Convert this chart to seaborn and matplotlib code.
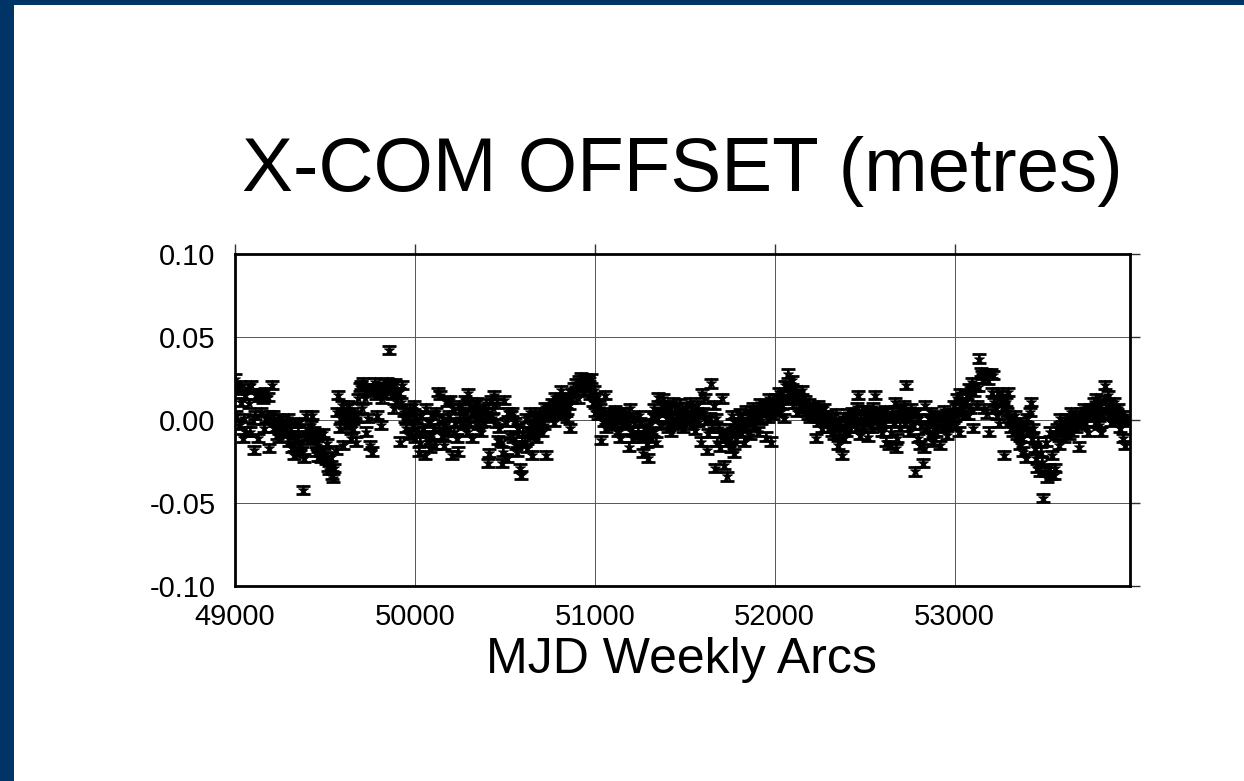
import numpy as np
import pandas as pd
import matplotlib
matplotlib.use("Agg")
import matplotlib.pyplot as plt
from matplotlib.patches import Rectangle
import seaborn as sns

# ---- data (X-COM offset, millimetres, one value per weekly arc) ----
start_mjd = 49000
step_days = 7
x_offset_mm = [
    25, 3, 18, -3, 21, 11, -11, 1, 15, -7,
    19, 10, -7, 21, 0, -18, 3, 15, -11, 14,
    16, 5, 13, -5, 17, 1, 14, -17, 3, 21,
    3, -5, -1, -9, 1, -11, -3, -7, 0, -6,
    -3, -7, 1, -13, -5, -17, -9, -21, -2, -11,
    -7, -1, -15, -19, -42, -23, 3, -9, -5, -12,
    -3, 3, -11, -7, -19, -15, -22, -9, -23, -18,
    -8, -20, -24, -14, -28, -30, -22, -33, -35, -29,
    -18, 5, 15, -5, 1, 9, -15, 3, -3, 7,
    9, -1, -11, 5, -5, 3, -13, 1, 13, 20,
    21, 7, 23, 13, -7, 17, 1, -15, 19, -19,
    19, 23, 15, 3, 20, 17, -3, 13, 22, 16,
    20, 23, 42, 21, 19, 15, 7, 22, 17, 11,
    17, -13, 11, 21, 5, 1, -5, 3, -9, 7,
    5, -3, 9, -11, 1, -7, -19, -13, 3, -5,
    -7, -21, 7, -13, -1, -17, -9, 3, -5, -15,
    5, 17, -5, 15, -9, 1, -15, -3, 11, -7,
    3, 12, -21, 7, -7, -1, -11, -19, 9, 1,
    7, -3, 3, 12, -7, 16, -1, 9, -11, 5,
    9, 1, 11, -3, 5, -7, 3, 7, -1, 10,
    5, -26, -20, 12, 1, 7, 15, -2, 10, -12,
    -5, -13, -26, -19, 12, -1, -23, 5, -9, 3,
    5, -11, -1, -15, -19, -5, -29, -33, -13, -7,
    -13, 1, -17, -7, 5, -3, -21, -9, 3, -11,
    1, -5, 5, -1, -7, -3, 8, -21, 3, 7,
    7, 3, 10, -1, 14, 5, 9, 12, 3, 18,
    11, 7, 14, 5, 1, 9, -5, 13, 16, 20,
    17, 22, 13, 24, 20, 26, 22, 17, 25, 20,
    24, 21, 15, 25, 11, 18, 5, 14, 3, 9,
    7, -12, 3, -1, 15, -5, 1, 5, -3, 2,
    3, -3, 6, 0, -7, 4, -11, 1, -2, 5,
    5, -3, 1, -16, 7, -7, -11, 2, -1, -9,
    -7, 3, -1, -11, -20, -9, -5, -14, -23, -3,
    -11, 3, -7, 7, -13, 1, 14, 5, -3, 9,
    13, 5, 9, 1, -5, 7, -7, 3, 11, -1,
    7, 3, -3, 10, -1, 5, -5, 2, 8, 0,
    3, 11, -3, 7, 1, -6, 5, 9, -1, 4,
    -13, 16, 5, 13, 0, -18, -8, 2, 22, -5,
    9, -29, 1, -13, -5, -16, -8, 13, -27, -11,
    -9, -34, -13, -5, -17, 3, -20, -1, -11, -7,
    -3, 4, -7, 1, -13, -5, 6, -1, 3, -9,
    1, 8, -3, 5, 3, -7, 6, 10, 0, 7,
    5, 9, -10, 1, 13, 7, -13, 3, 11, 6,
    13, 10, 17, 5, 9, 15, 1, 21, 12, 28,
    20, 17, 24, 13, 10, 18, 5, 15, 12, 9,
    18, 9, 7, 12, 5, 3, 10, 1, 6, 8,
    5, -11, 1, 9, -1, 6, -5, 3, 7, 0,
    3, -1, -5, 1, -7, -3, -9, 4, -2, -15,
    -9, -3, -21, 2, -11, -7, -1, 4, -5, 1,
    5, -1, 3, -5, 8, 15, -9, 1, 6, -3,
    3, 6, -1, -10, 4, 1, -5, 8, 15, 5,
    5, 1, -3, 3, -7, -1, 6, -13, 2, -15,
    1, -7, 5, -1, 11, -17, -11, 3, -4, 7,
    3, 9, -1, 21, 5, -7, 1, 7, -3, 4,
    -31, 5, -11, 1, -15, -3, -26, -17, 9, -5,
    -5, 1, -9, 5, -13, -1, 3, -7, -3, 2,
    -15, 2, -5, 6, -1, -9, 3, 0, -3, 4,
    1, 9, -3, 13, 5, -7, 16, 7, 10, 3,
    11, 15, 3, 19, 7, 23, -5, 17, 20, 9,
    20, 37, 29, 27, 25, 7, 28, 4, 24, -7,
    28, 17, 27, 11, 7, 3, 17, -2, 12, 15,
    8, -21, 11, 5, 17, 1, -5, -1, -7, 3,
    -5, -9, -1, -15, -7, -11, -19, -3, -23, 1,
    -7, 5, 11, -11, -5, -17, -23, -29, -13, -31,
    -19, -25, -47, -31, -13, -35, -29, -7, -33, -21,
    -33, -29, -9, -5, -15, 1, -7, -3, -11, -1,
    -5, 1, -9, -3, 5, -7, -1, 3, -5, 0,
    -16, 1, 5, -3, 7, -1, 3, -7, 6, 2,
    7, 3, 11, -1, 13, 5, -3, 9, -7, 4,
    12, 21, 7, 15, 3, 9, -1, 5, 11, 2,
    4, 7, 1, -5, -1, -11, 3, -15, 0,
]
sigma_m = 0.0025
x_ticks = [49000, 50000, 51000, 52000, 53000]
y_ticks = [-0.10, -0.05, 0.00, 0.05, 0.10]
y_tick_labels = ["-0.10", "-0.05", "0.00", "0.05", "0.10"]
title_text = "X-COM OFFSET (metres)"
xlabel_text = "MJD Weekly Arcs"

df = pd.DataFrame({
    "mjd": start_mjd + step_days * np.arange(len(x_offset_mm)),
    "offset": np.array(x_offset_mm) / 1000.0,
})

# ---- figure ----
sns.set_theme(style="white")
plt.rcParams['font.family'] = ['Liberation Sans', 'DejaVu Sans']

W, H = 1244, 781
fig = plt.figure(figsize=(W / 100, H / 100), dpi=100)
fig.patch.set_facecolor("white")
blue = "#003366"
fig.patches.append(Rectangle((0, 0), 14 / W, 1, transform=fig.transFigure,
                             facecolor=blue, edgecolor="none", zorder=0))
fig.patches.append(Rectangle((0, 1 - 5 / H), 1, 5 / H, transform=fig.transFigure,
                             facecolor=blue, edgecolor="none", zorder=0))

left, right, top, bottom = 235, 1130, 254, 586
ax = fig.add_axes([left / W, 1 - bottom / H, (right - left) / W, (bottom - top) / H])
ax.set_facecolor("white")

ax.errorbar(df["mjd"], df["offset"], yerr=sigma_m, fmt="none", ecolor="black",
            elinewidth=1.3, capsize=5, capthick=2.0, zorder=3)
sns.scatterplot(data=df, x="mjd", y="offset", marker="*", s=60, color="black",
                edgecolor="black", linewidth=0.5, ax=ax, zorder=4, legend=False)

ax.set_xlim(49000, 53975)
ax.set_ylim(-0.10, 0.10)
ax.set_xticks(x_ticks)
ax.set_xticklabels([str(t) for t in x_ticks])
ax.set_yticks(y_ticks)
ax.set_yticklabels(y_tick_labels)
ax.grid(True, color="#555555", linewidth=0.7)
ax.set_axisbelow(True)
ax.set_xlabel("")
ax.set_ylabel("")

for s in ax.spines.values():
    s.set_visible(True)
    s.set_color("black")
    s.set_linewidth(2.0)

ax.tick_params(axis="both", which="major", direction="out", length=7, width=1,
               color="#333333", top=True, right=True, labelsize=21,
               labelcolor="black")
ax.tick_params(axis="x", pad=5)
ax.tick_params(axis="y", pad=7)

fig.text(682 / W, 1 - 191 / H, title_text, ha="center", va="baseline",
         fontsize=55, color="black")
fig.text(681 / W, 1 - 673 / H, xlabel_text, ha="center", va="baseline",
         fontsize=36, color="black")

fig.savefig("out.png", dpi=100, facecolor="white")
